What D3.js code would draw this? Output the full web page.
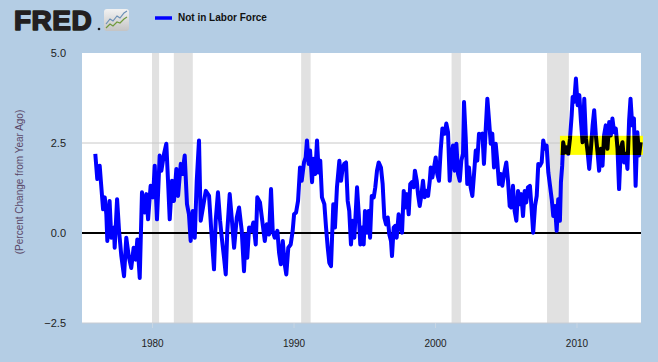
<!DOCTYPE html>
<html>
<head>
<meta charset="utf-8">
<script src="https://cdn.jsdelivr.net/npm/d3@7"></script>
<style>
  body { margin: 0; background: #b4cde4; }
  svg { display: block; }
</style>
</head>
<body>
<div id="chart"></div>
<script>
// series: Not in Labor Force, percent change from year ago
var years = [
    1975.99, 1976.13, 1976.30, 1976.40, 1976.54, 1976.66, 1976.77, 1976.84, 1977.00, 1977.12,
    1977.31, 1977.36, 1977.53, 1977.67, 1977.83, 1978.02, 1978.18, 1978.35, 1978.53, 1978.70,
    1978.85, 1978.96, 1979.13, 1979.29, 1979.48, 1979.60, 1979.72, 1979.90, 1980.07, 1980.19,
    1980.35, 1980.54, 1980.66, 1980.85, 1981.01, 1981.13, 1981.25, 1981.41, 1981.55, 1981.72,
    1981.84, 1982.03, 1982.14, 1982.31, 1982.47, 1982.61, 1982.73, 1982.88, 1983.02, 1983.16,
    1983.32, 1983.44, 1983.60, 1983.80, 1984.03, 1984.19, 1984.38, 1984.50, 1984.66, 1984.81,
    1984.93, 1985.09, 1985.21, 1985.32, 1985.49, 1985.63, 1985.80, 1985.99, 1986.15, 1986.34,
    1986.50, 1986.62, 1986.73, 1986.86, 1987.02, 1987.16, 1987.33, 1987.44, 1987.63, 1987.79,
    1987.97, 1988.11, 1988.27, 1988.41, 1988.53, 1988.67, 1988.86, 1988.98, 1989.10, 1989.24,
    1989.38, 1989.49, 1989.63, 1989.80, 1989.94, 1990.04, 1990.18, 1990.32, 1990.46, 1990.58,
    1990.74, 1990.86, 1990.95, 1991.07, 1991.17, 1991.31, 1991.40, 1991.54, 1991.66, 1991.78,
    1991.89, 1992.01, 1992.18, 1992.30, 1992.42, 1992.53, 1992.65, 1992.81, 1992.93, 1993.07,
    1993.24, 1993.36, 1993.48, 1993.59, 1993.71, 1993.83, 1993.94, 1994.06, 1994.18, 1994.30,
    1994.49, 1994.61, 1994.72, 1994.84, 1994.96, 1995.05, 1995.19, 1995.31, 1995.41, 1995.53,
    1995.67, 1995.78, 1995.90, 1996.02, 1996.18, 1996.30, 1996.42, 1996.54, 1996.66, 1996.77,
    1996.89, 1996.96, 1997.08, 1997.19, 1997.29, 1997.43, 1997.55, 1997.67, 1997.79, 1997.90,
    1998.02, 1998.14, 1998.25, 1998.37, 1998.49, 1998.58, 1998.71, 1998.80, 1998.92, 1999.03,
    1999.15, 1999.27, 1999.39, 1999.51, 1999.63, 1999.70, 1999.81, 1999.93, 2000.05, 2000.16,
    2000.28, 2000.40, 2000.52, 2000.69, 2000.80, 2000.92, 2001.04, 2001.15, 2001.27, 2001.39,
    2001.51, 2001.63, 2001.75, 2001.86, 2001.98, 2002.05, 2002.17, 2002.28, 2002.40, 2002.52,
    2002.64, 2002.76, 2002.88, 2002.99, 2003.11, 2003.23, 2003.35, 2003.46, 2003.58, 2003.70,
    2003.82, 2003.94, 2004.05, 2004.17, 2004.29, 2004.40, 2004.52, 2004.64, 2004.76, 2004.88,
    2005.04, 2005.16, 2005.28, 2005.39, 2005.51, 2005.63, 2005.75, 2005.87, 2005.99, 2006.10,
    2006.22, 2006.34, 2006.45, 2006.57, 2006.71, 2006.83, 2006.94, 2007.07, 2007.19, 2007.30,
    2007.42, 2007.54, 2007.65, 2007.77, 2007.89, 2008.01, 2008.13, 2008.25, 2008.36, 2008.48,
    2008.60, 2008.71, 2008.83, 2008.90, 2008.99, 2009.06, 2009.19, 2009.31, 2009.42, 2009.54,
    2009.66, 2009.73, 2009.84, 2009.96, 2010.08, 2010.20, 2010.32, 2010.43, 2010.55, 2010.67,
    2010.79, 2010.90, 2011.02, 2011.14, 2011.25, 2011.37, 2011.49, 2011.60, 2011.72, 2011.84,
    2011.95, 2012.07, 2012.19, 2012.31, 2012.43, 2012.54, 2012.66, 2012.78, 2012.90, 2013.01,
    2013.13, 2013.25, 2013.37, 2013.49, 2013.60, 2013.72, 2013.82, 2013.94, 2014.06, 2014.18,
    2014.30, 2014.42, 2014.54
];

var values = [
    2.20, 1.50, 1.87, 1.36, 0.66, 0.99, 0.52, -0.22, 0.89, -0.13,
    0.15, -0.41, 0.94, 0.06, -0.64, -1.20, -0.13, -0.64, -0.97, -0.41,
    -0.74, -0.18, -1.25, 1.13, 0.57, 1.08, 0.38, 1.31, 0.99, 1.87,
    0.38, 2.15, 1.73, 2.20, 2.48, 1.45, 0.38, 1.45, 0.89, 1.78,
    1.03, 1.92, 1.64, 2.15, 0.80, 0.52, -0.22, 0.61, -0.13, 1.45,
    2.57, 0.34, 0.71, 1.17, 1.03, 0.06, -1.01, 0.34, 1.13, 0.34,
    -0.13, -0.69, -1.15, 0.06, 1.08, 0.43, -0.41, 0.43, 0.71, 0.06,
    -1.06, -0.04, -0.69, 0.15, 0.06, 0.29, -0.32, 0.99, 0.85, 0.34,
    -0.22, 0.24, -0.04, 1.22, 0.06, -0.13, 0.06, -0.55, -0.87, -0.22,
    -0.87, -1.15, -0.41, -0.32, 0.06, 0.52, 0.57, 0.89, 1.82, 1.45,
    1.96, 2.10, 2.57, 1.92, 2.29, 1.41, 2.06, 1.64, 2.57, 1.68,
    2.01, 0.99, 0.80, 0.15, -0.41, -0.83, -0.92, 0.80, 0.15, 1.27,
    2.01, 1.45, 1.82, 1.92, 1.96, 0.89, 0.61, -0.32, 0.34, -0.13,
    1.27, 0.52, -0.32, 0.15, -0.32, 0.61, 0.01, 0.61, -0.13, 1.03,
    0.99, 1.27, 1.73, 1.96, 1.82, 1.36, 0.43, 0.24, 0.43, -0.04,
    -0.22, -0.64, 0.15, 0.20, -0.13, 0.52, 0.15, 0.01, 1.17, 0.71,
    1.08, 0.52, 1.36, 1.41, 1.27, 1.73, 1.45, 1.08, 0.75, 1.03,
    1.45, 0.99, 1.17, 1.03, 1.45, 1.82, 1.54, 1.82, 2.10, 1.64,
    1.45, 2.29, 2.90, 2.76, 3.04, 2.80, 1.45, 2.10, 2.43, 1.73,
    2.48, 1.64, 1.45, 2.01, 2.20, 3.64, 2.66, 1.36, 1.82, 1.27,
    1.03, 1.64, 2.29, 2.01, 2.76, 2.71, 2.76, 1.92, 2.85, 3.73,
    3.13, 2.48, 2.76, 1.82, 2.48, 2.01, 1.36, 1.64, 1.31, 1.64,
    1.96, 1.45, 0.75, 0.71, 1.31, 0.61, 0.34, 1.17, 0.80, 1.08,
    0.47, 1.17, 0.85, 1.27, 1.31, 0.66, 0.01, 0.75, 1.03, 1.92,
    1.87, 1.96, 2.57, 2.34, 2.43, 1.68, 1.31, 0.94, 0.47, 0.75,
    0.06, 0.94, 0.34, 1.41, 1.87, 2.52, 2.24, 2.38, 2.20, 2.62,
    3.27, 3.78, 3.64, 4.29, 3.55, 3.83, 3.08, 2.52, 3.73, 2.62,
    2.24, 1.78, 2.34, 2.99, 3.41, 2.71, 2.24, 1.73, 2.34, 1.87,
    2.71, 2.99, 2.34, 3.08, 2.71, 3.18, 2.80, 2.90, 2.34, 1.22,
    2.34, 2.52, 1.96, 2.20, 1.78, 3.13, 3.73, 2.99, 3.18, 1.31,
    2.80, 2.15, 2.52
];

// recession periods (start, end) in decimal years
var recessionStart = [1980.00, 1981.54, 1990.54, 2001.17, 2007.92];
var recessionEnd = [1980.50, 1982.88, 1991.21, 2001.83, 2009.46];

var xTicks = [1980, 1990, 2000, 2010];
var yTicks = [-2.5, 0, 2.5, 5];

// highlighted band drawn over the recent values
var bandStart = 2008.83;
var bandLow = 2.17;
var bandHigh = 2.70;

var svgWidth = 658;
var svgHeight = 362;

var margin = {
    top: 53,
    right: 17,
    bottom: 39,
    left: 82
};

var width = svgWidth - margin.left - margin.right;
var height = svgHeight - margin.top - margin.bottom;

var data = years.map(function(d, i) {
    return { year: d, value: values[i] };
});

var svg = d3.select('#chart')
    .append('svg')
    .attr('width', svgWidth)
    .attr('height', svgHeight);

svg.append('rect')
    .attr('width', svgWidth)
    .attr('height', svgHeight)
    .attr('fill', '#b4cde4');

// FRED logo
var logo = svg.append('g');

logo.append('text')
    .attr('x', 14)
    .attr('y', 30)
    .attr('font-family', 'Liberation Sans, Arial, sans-serif')
    .attr('font-weight', 'bold')
    .attr('font-size', 28)
    .attr('letter-spacing', 0.5)
    .attr('fill', '#231f20')
    .attr('stroke', '#231f20')
    .attr('stroke-width', 1.6)
    .attr('stroke-linejoin', 'round')
    .text('FRED');

logo.append('circle')
    .attr('cx', 99)
    .attr('cy', 29)
    .attr('r', 1.3)
    .attr('fill', '#231f20');

var grad = svg.append('defs')
    .append('linearGradient')
    .attr('id', 'iconGrad')
    .attr('x1', 0).attr('y1', 0)
    .attr('x2', 0).attr('y2', 1);
grad.append('stop').attr('offset', '0%').attr('stop-color', '#f2f2f2');
grad.append('stop').attr('offset', '100%').attr('stop-color', '#c4c4c4');

logo.append('rect')
    .attr('x', 104)
    .attr('y', 9)
    .attr('width', 25)
    .attr('height', 22)
    .attr('rx', 3)
    .attr('fill', 'url(#iconGrad)');

logo.append('path')
    .attr('d', 'M106,24 L110,19 L113,21 L117,16 L120,18 L124,13 L127,11')
    .attr('fill', 'none')
    .attr('stroke', '#6a8fb5')
    .attr('stroke-width', 1.2);

logo.append('path')
    .attr('d', 'M106,28 L110,24 L113,26 L117,22 L120,23 L124,19 L127,17')
    .attr('fill', 'none')
    .attr('stroke', '#6f9a3c')
    .attr('stroke-width', 1.2);

// legend
svg.append('line')
    .attr('x1', 155)
    .attr('x2', 172)
    .attr('y1', 18)
    .attr('y2', 18)
    .attr('stroke', '#0000ff')
    .attr('stroke-width', 3.5);

svg.append('text')
    .attr('x', 178)
    .attr('y', 21)
    .attr('font-family', 'Liberation Sans, Arial, sans-serif')
    .attr('font-weight', 'bold')
    .attr('font-size', 10)
    .attr('fill', '#111')
    .text('Not in Labor Force');

// scales
var xScale = d3.scaleLinear()
    .domain([1975.05, 2014.56])
    .range([0, width]);

var yScale = d3.scaleLinear()
    .domain([-2.5, 5])
    .range([height, 0]);

var chartGroup = svg.append('g')
    .attr('transform', `translate(${margin.left}, ${margin.top})`);

// plot background
chartGroup.append('rect')
    .attr('width', width)
    .attr('height', height)
    .attr('fill', '#ffffff');

// recession shading
chartGroup.selectAll('.recession')
    .data(recessionStart)
    .enter()
    .append('rect')
    .attr('class', 'recession')
    .attr('x', d => xScale(d))
    .attr('width', (d, i) => xScale(recessionEnd[i]) - xScale(d))
    .attr('y', 0)
    .attr('height', height)
    .attr('fill', '#e1e1e1');

// grid line at 2.5
chartGroup.append('line')
    .attr('x1', 0)
    .attr('x2', width)
    .attr('y1', yScale(2.5))
    .attr('y2', yScale(2.5))
    .attr('stroke', '#c8c8c8')
    .attr('stroke-width', 1);

// bottom border of plot
chartGroup.append('line')
    .attr('x1', 0)
    .attr('x2', width)
    .attr('y1', height)
    .attr('y2', height)
    .attr('stroke', '#c8ccd2')
    .attr('stroke-width', 1);

// zero line
chartGroup.append('line')
    .attr('x1', 0)
    .attr('x2', width)
    .attr('y1', yScale(0))
    .attr('y2', yScale(0))
    .attr('stroke', '#000')
    .attr('stroke-width', 2);

var lineGen = d3.line()
    .x(d => xScale(d.year))
    .y(d => yScale(d.value));

chartGroup.append('path')
    .datum(data)
    .attr('d', lineGen)
    .attr('fill', 'none')
    .attr('stroke', '#0000ff')
    .attr('stroke-width', 4)
    .attr('stroke-linejoin', 'round');

// yellow highlight band, with the line inside it in black
var bandX = xScale(bandStart);
var bandW = width + 2 - bandX;

chartGroup.append('rect')
    .attr('x', bandX)
    .attr('y', yScale(bandHigh))
    .attr('width', bandW)
    .attr('height', yScale(bandLow) - yScale(bandHigh))
    .attr('fill', '#ffff00');

svg.select('defs')
    .append('clipPath')
    .attr('id', 'bandClip')
    .append('rect')
    .attr('x', bandX)
    .attr('y', yScale(bandHigh))
    .attr('width', bandW)
    .attr('height', yScale(bandLow) - yScale(bandHigh));

chartGroup.append('path')
    .datum(data)
    .attr('d', lineGen)
    .attr('clip-path', 'url(#bandClip)')
    .attr('fill', 'none')
    .attr('stroke', '#000')
    .attr('stroke-width', 4)
    .attr('stroke-linejoin', 'round');

// axes
var leftAxis = d3.axisLeft(yScale)
    .tickValues(yTicks)
    .tickFormat(d3.format('.1f'))
    .tickSize(0)
    .tickPadding(16);

var yAxis = chartGroup.append('g')
    .call(leftAxis);
yAxis.select('.domain').remove();
yAxis.selectAll('text')
    .attr('font-family', 'Liberation Sans, Arial, sans-serif')
    .attr('font-size', 11)
    .attr('fill', '#222');

var bottomAxis = d3.axisBottom(xScale)
    .tickValues(xTicks)
    .tickFormat(d3.format('d'))
    .tickSize(5)
    .tickPadding(12);

var xAxis = chartGroup.append('g')
    .attr('transform', `translate(0, ${height})`)
    .call(bottomAxis);
xAxis.select('.domain').remove();
xAxis.selectAll('line')
    .attr('stroke', '#c9d6e3');
xAxis.selectAll('text')
    .attr('font-family', 'Liberation Sans, Arial, sans-serif')
    .attr('font-size', 10)
    .attr('fill', '#222');

// y axis title
svg.append('text')
    .attr('transform', `translate(23, ${margin.top + height / 2 - 6}) rotate(-90)`)
    .attr('text-anchor', 'middle')
    .attr('font-family', 'Liberation Sans, Arial, sans-serif')
    .attr('font-size', 10)
    .attr('fill', '#5a4868')
    .text('(Percent Change from Year Ago)');
</script>
</body>
</html>
